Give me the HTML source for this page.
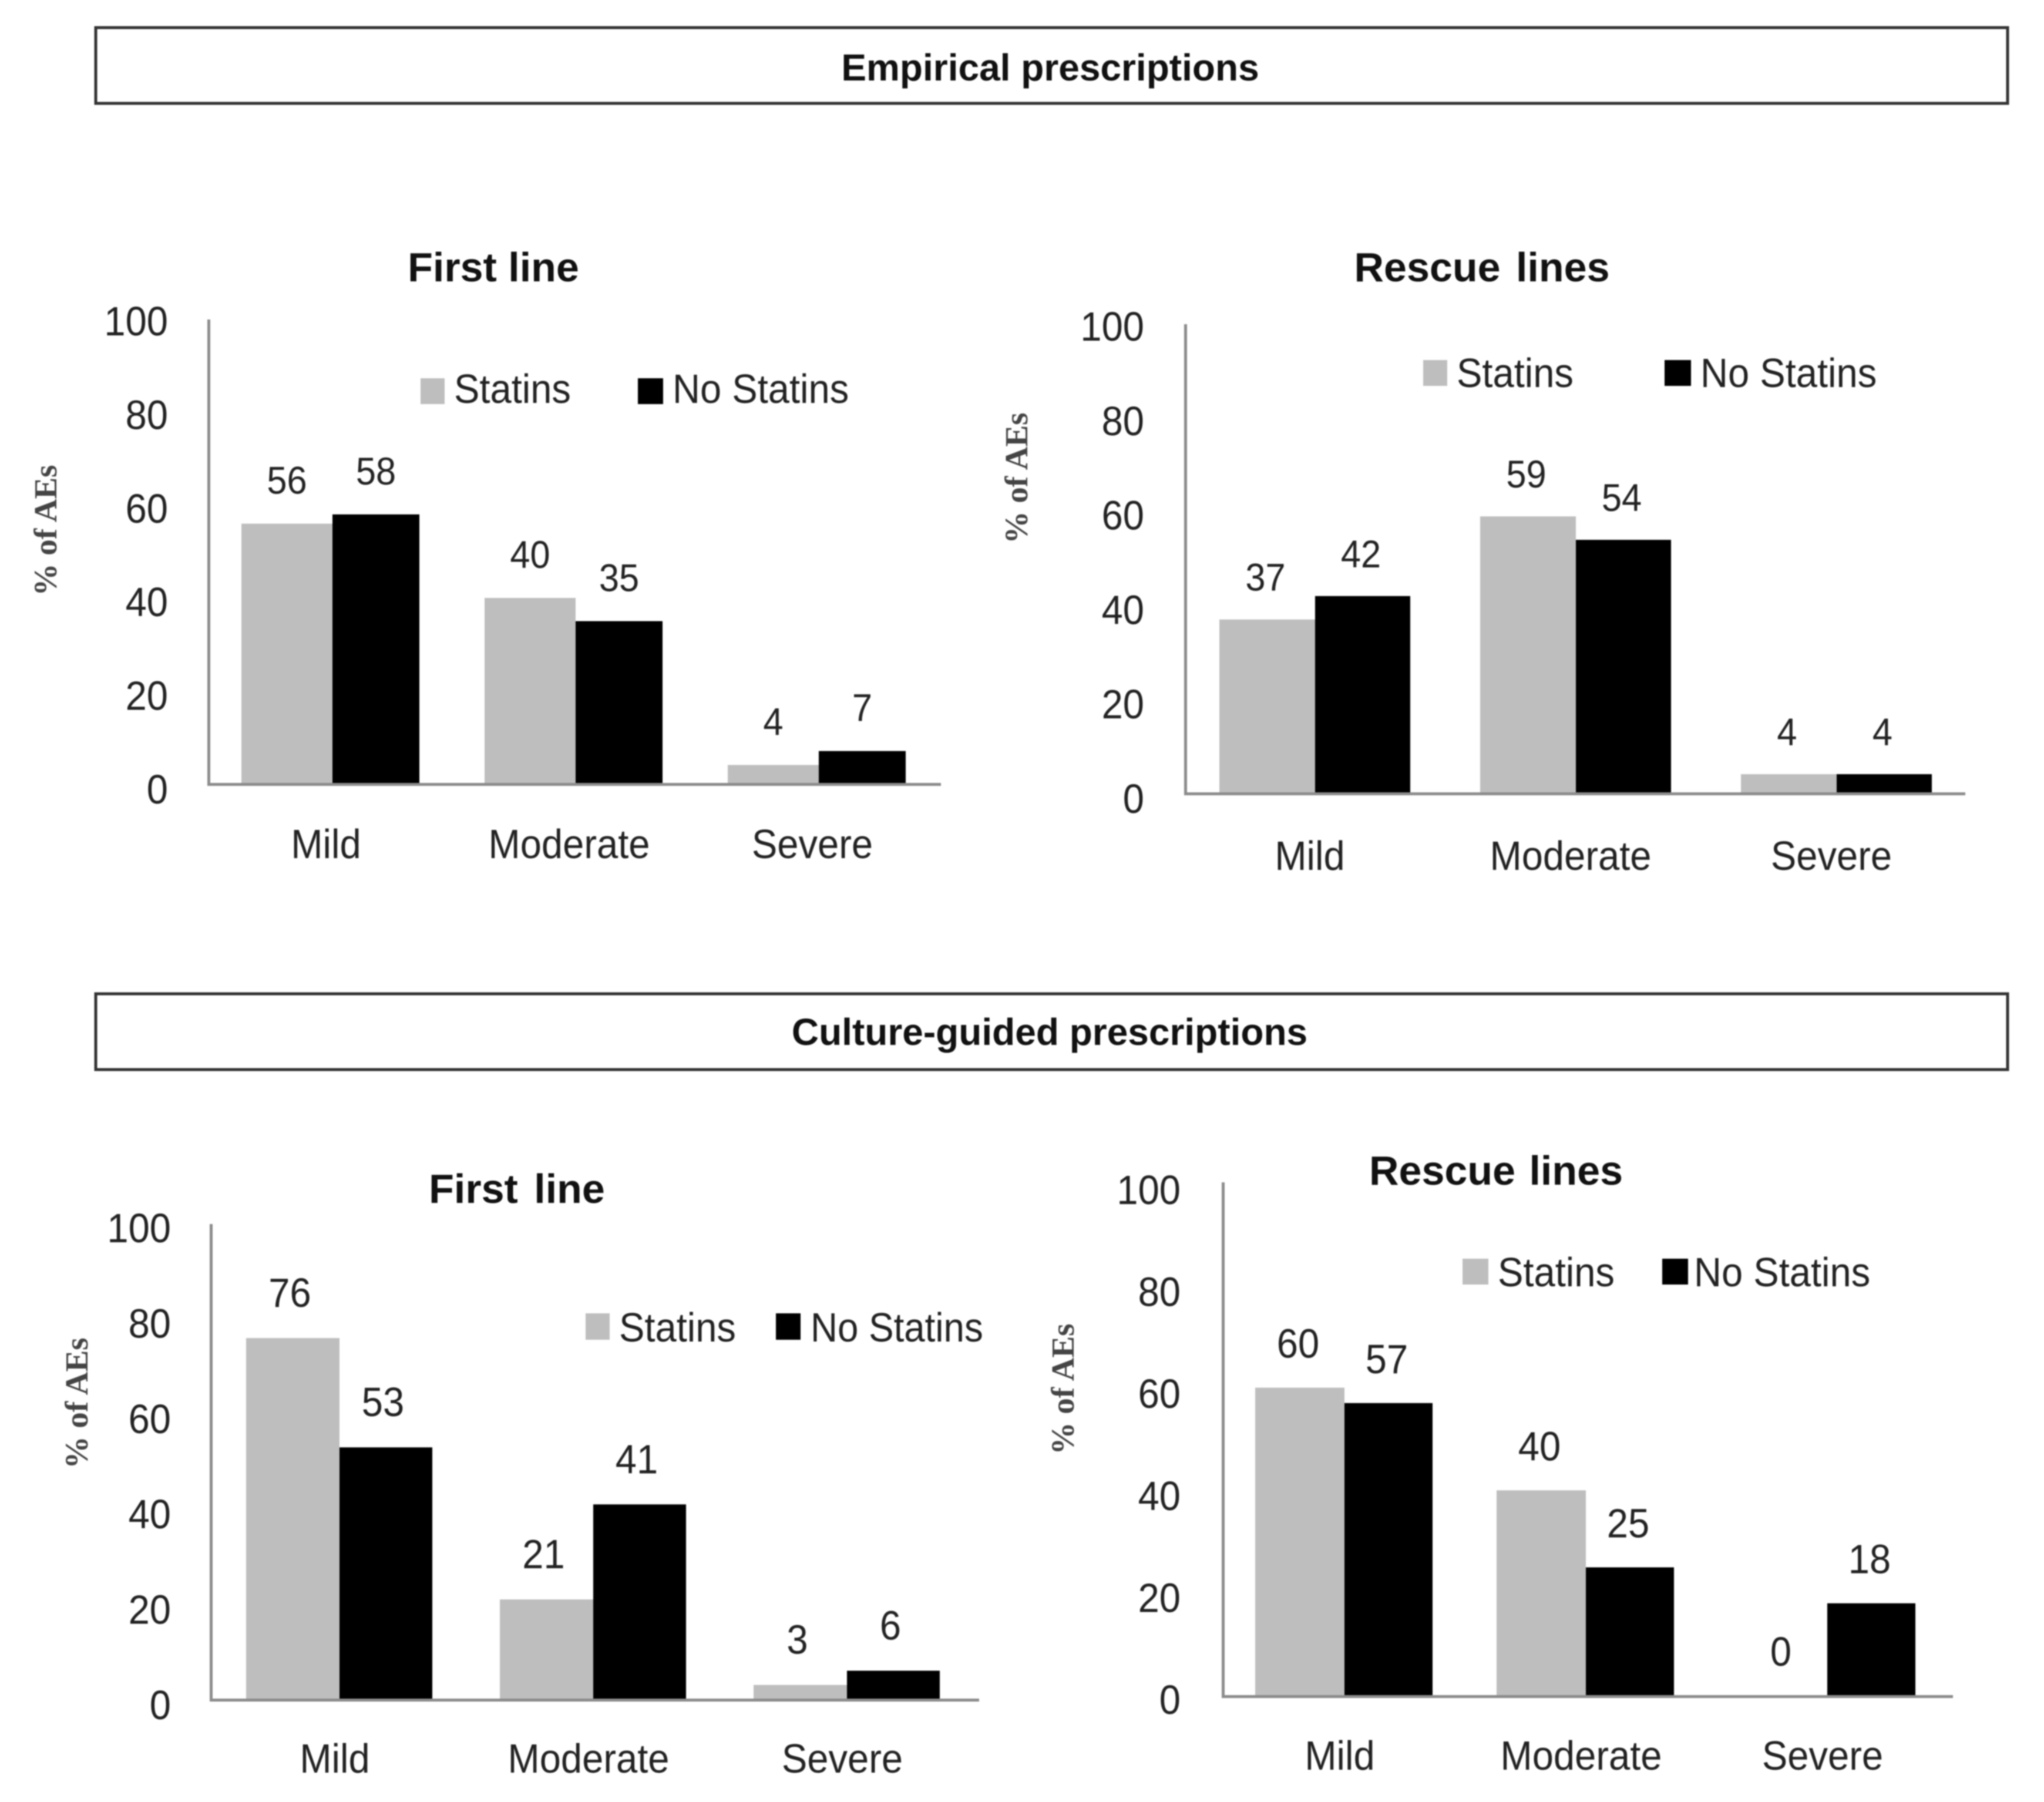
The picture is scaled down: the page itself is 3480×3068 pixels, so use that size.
<!DOCTYPE html>
<html lang="en">
<head>
<meta charset="utf-8">
<title>Adverse events by severity</title>
<style>
  html, body { margin: 0; padding: 0; background: #fff; }
  svg { display: block; filter: blur(1px); }
  text { font-family: "Liberation Sans", sans-serif; fill: #222; }
  .banner { font-size: 64px; font-weight: bold; fill: #111; text-anchor: middle; }
  .title { font-size: 70px; font-weight: bold; fill: #111; text-anchor: middle; }
  .legend { font-size: 70px; }
  .ytitle { font-family: "Liberation Serif", serif; font-size: 55px; font-weight: bold; fill: #444; text-anchor: middle; }
</style>
</head>
<body>
<svg id="figure" xmlns="http://www.w3.org/2000/svg" width="3480" height="3068" viewBox="0 0 3480 3068">
  <rect width="3480" height="3068" fill="#fff"/>

  <g>
    <rect x="163" y="47" width="3255" height="129" fill="#fff" stroke="#333" stroke-width="5"/>
    <text class="banner" x="1788" y="137">Empirical prescriptions</text>
  </g>
  <g>
    <rect x="163" y="1692" width="3255" height="129" fill="#fff" stroke="#333" stroke-width="5"/>
    <text class="banner" x="1787" y="1779">Culture-guided prescriptions</text>
  </g>

  <g id="panel-a">
    <text class="title" x="840" y="479">First line</text>
    <text class="ytitle" transform="translate(96 903) rotate(-90)">% of AEs</text>
    <g>
      <rect x="716" y="644" width="41" height="44" fill="#bebebe"/>
      <text class="legend" transform="translate(773 686) scale(.93 1)">Statins</text>
      <rect x="1086" y="644" width="43" height="44" fill="#000"/>
      <text class="legend" transform="translate(1145 686) scale(.93 1)">No Statins</text>
    </g>
  </g>

  <g id="panel-b">
    <text class="title" x="2523" y="479" word-spacing="7">Rescue lines</text>
    <text class="ytitle" transform="translate(1749 814) rotate(-90)">% of AEs</text>
    <g>
      <rect x="2423" y="613" width="41" height="44" fill="#bebebe"/>
      <text class="legend" transform="translate(2480 659) scale(.93 1)">Statins</text>
      <rect x="2834" y="613" width="45" height="44" fill="#000"/>
      <text class="legend" transform="translate(2895 659) scale(.93 1)">No Statins</text>
    </g>
  </g>

  <g id="panel-c">
    <text class="title" x="880" y="2048" word-spacing="8">First line</text>
    <text class="ytitle" transform="translate(149 2389) rotate(-90)">% of AEs</text>
    <g>
      <rect x="997" y="2236" width="41" height="45" fill="#bebebe"/>
      <text class="legend" transform="translate(1054 2284) scale(.93 1)">Statins</text>
      <rect x="1321" y="2236" width="42" height="45" fill="#000"/>
      <text class="legend" transform="translate(1380 2284) scale(.91 1)">No Statins</text>
    </g>
  </g>

  <g id="panel-d">
    <text class="title" x="2547" y="2017" word-spacing="4">Rescue lines</text>
    <text class="ytitle" transform="translate(1828 2365) rotate(-90)">% of AEs</text>
    <g>
      <rect x="2490" y="2143" width="44" height="44" fill="#bebebe"/>
      <text class="legend" transform="translate(2550 2190) scale(.93 1)">Statins</text>
      <rect x="2830" y="2143" width="44" height="44" fill="#000"/>
      <text class="legend" transform="translate(2884 2190) scale(.93 1)">No Statins</text>
    </g>
  </g>
</svg>

<script>
// ---- chart data ----
const categories = ['Mild', 'Moderate', 'Severe'];
const tickValues = [0, 20, 40, 60, 80, 100];
const tickLabels = ['0', '20', '40', '60', '80', '100'];

const empiricalFirstStatins = [56, 40, 4];
const empiricalFirstNoStatins = [58, 35, 7];
const empiricalRescueStatins = [37, 59, 4];
const empiricalRescueNoStatins = [42, 54, 4];
const cultureFirstStatins = [76, 21, 3];
const cultureFirstNoStatins = [53, 41, 6];
const cultureRescueStatins = [60, 40, 0];
const cultureRescueNoStatins = [57, 25, 18];

// ---- layout of each plot area (geometry only) ----
const layoutA = { id: 'panel-a', axisX: 355, axisEnd: 1602, baseline: 1334, plotH: 790, tickSpan: 797, tickDy: 34, firstSplit: 566, step: 414, statinW: 155, noStatinW: 148, tickRight: 286, catY: 1461, catDx: -11, valueDx: 0, valueGap: 51, valueSize: 66 };
const layoutB = { id: 'panel-b', axisX: 2018, axisEnd: 3346, baseline: 1350, plotH: 798, tickSpan: 804, tickDy: 34, firstSplit: 2239, step: 444, statinW: 163, noStatinW: 162, tickRight: 1948, catY: 1481, catDx: -9, valueDx: -3, valueGap: 49, valueSize: 66 };
const layoutC = { id: 'panel-c', axisX: 359, axisEnd: 1667, baseline: 2893, plotH: 809, tickSpan: 812, tickDy: 34, firstSplit: 578, step: 432, statinW: 159, noStatinW: 158, tickRight: 291, catY: 3018, catDx: -8, valueDx: -5, valueGap: 53, valueSize: 70 };
const layoutD = { id: 'panel-d', axisX: 2082, axisEnd: 3325, baseline: 2887, plotH: 874, tickSpan: 868, tickDy: 31, firstSplit: 2289, step: 411, statinW: 152, noStatinW: 150, tickRight: 2010, catY: 3013, catDx: -8, valueDx: -3, valueGap: 51, valueSize: 70 };

const SVG_NS = 'http://www.w3.org/2000/svg';
const TEXT_SCALE = 0.93;

function makeText(parent, name, x, y, str, size, anchor) {
  const el = document.createElementNS(SVG_NS, 'text');
  
  
  el.setAttribute('transform', 'translate(' + x + ' ' + y + ') scale(' + TEXT_SCALE + ' 1)');
  el.setAttribute('font-size', size);
  el.setAttribute('text-anchor', anchor);
  el.textContent = str;
  parent.appendChild(el);
  return el;
}

function makeRect(parent, name, x, y, w, h, fill) {
  const el = document.createElementNS(SVG_NS, 'rect');
  
  
  el.setAttribute('x', x);
  el.setAttribute('y', y);
  el.setAttribute('width', w);
  el.setAttribute('height', h);
  el.setAttribute('fill', fill);
  parent.appendChild(el);
  return el;
}

function drawChart(layout, statins, noStatins) {
  const root = document.getElementById(layout.id);
  const yScale = function (v) { return layout.baseline - (v / 100) * layout.plotH; };
  const tickY = function (v) { return layout.baseline + layout.tickDy - (v / 100) * layout.tickSpan; };
  const splitX = function (i) { return layout.firstSplit + i * layout.step; };

  // bars and printed values
  categories.forEach(function (cat, i) {
    const slug = cat.toLowerCase();
    const sTop = yScale(statins[i]);
    const nTop = yScale(noStatins[i]);
    const mid = splitX(i);
    makeRect(root, 'bar-statins-' + slug, mid - layout.statinW, sTop, layout.statinW, layout.baseline - sTop, '#bebebe');
    makeRect(root, 'bar-no-statins-' + slug, mid, nTop, layout.noStatinW, layout.baseline - nTop, '#000');
    makeText(root, 'value-statins-' + slug, mid - layout.statinW / 2 + layout.valueDx, sTop - layout.valueGap, String(statins[i]), layout.valueSize, 'middle');
    makeText(root, 'value-no-statins-' + slug, mid + layout.noStatinW / 2 + layout.valueDx, nTop - layout.valueGap, String(noStatins[i]), layout.valueSize, 'middle');
    makeText(root, 'category-label-' + slug, mid + layout.catDx, layout.catY, cat, 70, 'middle');
  });

  // axes
  makeRect(root, 'y-axis-line', layout.axisX - 2, yScale(100), 5, layout.plotH + 2, '#8c8c8c');
  makeRect(root, 'x-axis-line', layout.axisX - 2, layout.baseline - 1, layout.axisEnd - layout.axisX + 2, 5, '#8c8c8c');

  // y tick labels
  tickValues.forEach(function (t, i) {
    makeText(root, 'y-tick-label-' + tickLabels[i], layout.tickRight, tickY(t), tickLabels[i], 70, 'end');
  });
}

drawChart(layoutA, empiricalFirstStatins, empiricalFirstNoStatins);
drawChart(layoutB, empiricalRescueStatins, empiricalRescueNoStatins);
drawChart(layoutC, cultureFirstStatins, cultureFirstNoStatins);
drawChart(layoutD, cultureRescueStatins, cultureRescueNoStatins);
</script>
</body>
</html>
